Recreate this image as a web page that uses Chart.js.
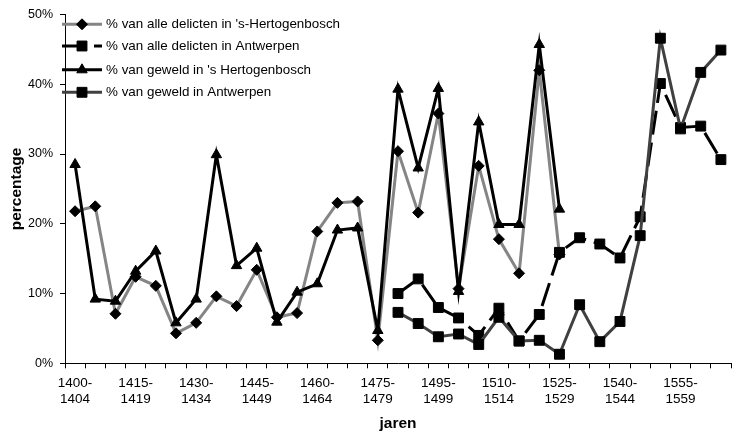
<!DOCTYPE html>
<html>
<head>
<meta charset="utf-8">
<script src="https://cdn.jsdelivr.net/npm/chart.js@4/dist/chart.umd.min.js"></script>
<style>
html,body{margin:0;padding:0;background:#fff;}
#wrap{width:739px;height:436px;}
</style>
</head>
<body>
<div id="wrap"><canvas id="c" width="739" height="436"></canvas></div>
<script>
const categories = [
  ["1400-","1404"],["1405-","1409"],["1410-","1414"],["1415-","1419"],["1420-","1424"],
  ["1425-","1429"],["1430-","1434"],["1435-","1439"],["1440-","1444"],["1445-","1449"],
  ["1450-","1454"],["1455-","1459"],["1460-","1464"],["1465-","1469"],["1470-","1474"],
  ["1475-","1479"],["1480-","1489"],["1490-","1494"],["1495-","1499"],["1500-","1504"],
  ["1505-","1509"],["1510-","1514"],["1515-","1519"],["1520-","1524"],["1525-","1529"],
  ["1530-","1534"],["1535-","1539"],["1540-","1544"],["1545-","1549"],["1550-","1554"],
  ["1555-","1559"],["1560-","1564"],["1565-","1569"]
];
const seriesNames = [
  "% van alle delicten in 's-Hertogenbosch",
  "% van alle delicten in Antwerpen",
  "% van geweld in 's Hertogenbosch",
  "% van geweld in Antwerpen"
];
const alleBosch = [21.8,22.5,7.1,12.4,11.1,4.3,5.8,9.6,8.2,13.4,6.6,7.2,18.9,23.0,23.2,3.3,30.4,21.6,35.8,10.7,28.3,17.8,12.9,42.0,15.6,null,null,null,null,null,null,null,null];
const alleAntw = [null,null,null,null,null,null,null,null,null,null,null,null,null,null,null,null,10.0,12.1,8.0,6.5,4.0,7.9,3.2,7.0,15.9,18.0,17.1,15.1,21.0,40.1,33.8,34.0,29.2];
const geweldBosch = [28.5,9.2,8.9,13.2,16.1,5.8,9.2,29.9,14.0,16.5,5.9,10.2,11.4,19.1,19.4,4.7,39.3,28.0,39.4,10.3,34.6,19.9,19.9,45.7,22.1,null,null,null,null,null,null,null,null];
const geweldAntw = [null,null,null,null,null,null,null,null,null,null,null,null,null,null,null,null,7.3,5.7,3.8,4.2,2.7,6.6,3.2,3.3,1.3,8.4,3.1,6.0,18.3,46.6,33.6,41.7,44.9];
const yTicks = [0,10,20,30,40,50];

const FONT = "'Liberation Sans', Arial, sans-serif";

function markerPath(ctx, style, r, x, y) {
  ctx.beginPath();
  if (style === 'rectRot') {
    ctx.moveTo(x - r, y); ctx.lineTo(x, y - r); ctx.lineTo(x + r, y); ctx.lineTo(x, y + r);
  } else if (style === 'rect') {
    const h = r * Math.SQRT1_2;
    ctx.rect(x - h, y - h, 2 * h, 2 * h);
  } else if (style === 'triangle') {
    ctx.moveTo(x, y - r);
    ctx.lineTo(x + r * Math.sin(2 * Math.PI / 3), y - r * Math.cos(2 * Math.PI / 3));
    ctx.lineTo(x + r * Math.sin(4 * Math.PI / 3), y - r * Math.cos(4 * Math.PI / 3));
  }
  ctx.closePath();
}

const legendPlugin = {
  id: 'lineLegend',
  afterDraw(chart) {
    const ctx = chart.ctx;
    const rows = [24.3, 46, 69.8, 92.3];
    chart.data.datasets.forEach((ds, i) => {
      const y = rows[i];
      ctx.save();
      ctx.strokeStyle = ds.borderColor;
      ctx.lineWidth = ds.borderWidth;
      ctx.setLineDash(ds.borderDash || []);
      ctx.beginPath(); ctx.moveTo(62, y); ctx.lineTo(102, y); ctx.stroke();
      ctx.setLineDash([]);
      ctx.fillStyle = ds.pointBackgroundColor;
      ctx.strokeStyle = ds.pointBorderColor;
      ctx.lineWidth = 1;
      markerPath(ctx, ds.pointStyle, ds.pointRadius, 82, y);
      ctx.fill(); ctx.stroke();
      ctx.fillStyle = '#000';
      ctx.font = '13.4px ' + FONT;
      ctx.textBaseline = 'middle';
      ctx.textAlign = 'left';
      ctx.fillText(ds.label, 106, y + 0.5);
      ctx.restore();
    });
  }
};

const datasets = [
  {label: seriesNames[0], data: alleBosch, borderColor: '#858585', borderWidth: 3,
   pointStyle: 'rectRot', pointRadius: 5.5, pointBackgroundColor: '#000', pointBorderColor: '#000', order: 4},
  {label: seriesNames[1], data: alleAntw, borderColor: '#000', borderWidth: 3, borderDash: [24, 8],
   pointStyle: 'rect', pointRadius: 7, pointBackgroundColor: '#000', pointBorderColor: '#000', order: 3},
  {label: seriesNames[2], data: geweldBosch, borderColor: '#000', borderWidth: 3,
   pointStyle: 'triangle', pointRadius: 6, pointBackgroundColor: '#000', pointBorderColor: '#000', order: 2},
  {label: seriesNames[3], data: geweldAntw, borderColor: '#404040', borderWidth: 3,
   pointStyle: 'rect', pointRadius: 7, pointBackgroundColor: '#000', pointBorderColor: '#000', order: 1}
];
datasets.forEach(d => { d.fill = false; d.tension = 0; d.spanGaps = false; d.pointBorderWidth = 1; d.pointHoverRadius = d.pointRadius; });

new Chart(document.getElementById('c'), {
  type: 'line',
  data: {labels: categories, datasets: datasets},
  plugins: [legendPlugin],
  options: {
    responsive: false,
    devicePixelRatio: 1,
    animation: false,
    events: [],
    layout: {padding: {top: 12, right: 0, bottom: 0, left: 0}},
    plugins: {legend: {display: false}, tooltip: {enabled: false}, title: {display: false}},
    scales: {
      x: {
        type: 'category',
        offset: true,
        grid: {display: true, offset: true, drawOnChartArea: false, drawTicks: true, tickLength: 5, color: '#000', lineWidth: 1},
        border: {display: true, color: '#000', width: 1},
        ticks: {
          autoSkip: false, maxRotation: 0, minRotation: 0, padding: 7, color: '#000',
          font: {family: FONT, size: 13.5, lineHeight: 1.2},
          callback: function(value, index) { return index % 3 === 0 ? categories[index] : ''; }
        },
        title: {display: true, text: 'jaren', color: '#000', font: {family: FONT, size: 15.5, weight: 'bold', lineHeight: 1.2}, padding: {top: 0, bottom: 2.7}},
        afterFit: function(scale) { scale.height = 72.7; }
      },
      y: {
        min: 0, max: 50,
        afterBuildTicks: function(scale) { scale.ticks = yTicks.map(v => ({value: v})); },
        grid: {display: true, drawOnChartArea: false, drawTicks: true, tickLength: 5, color: '#000', lineWidth: 1},
        border: {display: true, color: '#000', width: 1},
        ticks: {padding: 7, color: '#000', font: {family: FONT, size: 12.5}, callback: v => v + '%'},
        title: {display: true, text: 'percentage', color: '#000', font: {family: FONT, size: 15.5, weight: 'bold', lineHeight: 1.2}, padding: {top: 7.7, bottom: 0}},
        afterFit: function(scale) { scale.width = 65; }
      }
    }
  }
});
</script>
</body>
</html>
